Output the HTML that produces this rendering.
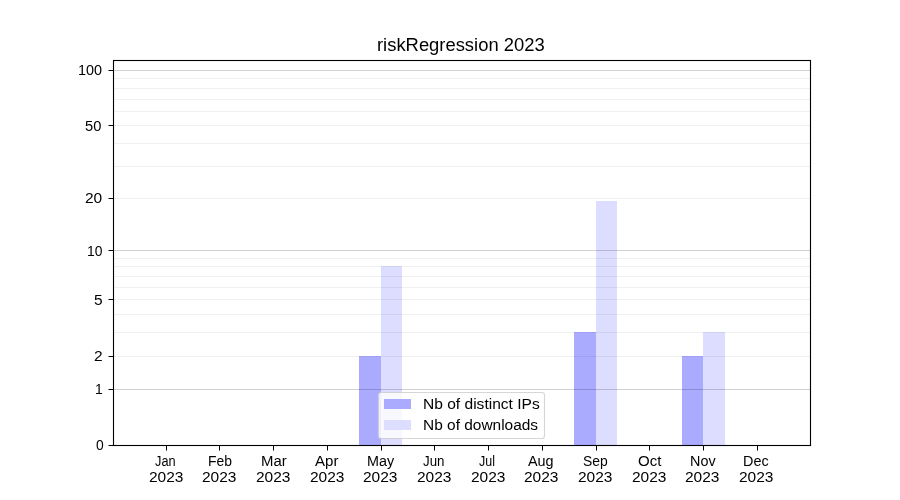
<!DOCTYPE html><html><head><meta charset="utf-8"><style>html,body{margin:0;padding:0;background:#fff;width:900px;height:500px;overflow:hidden}svg{display:block}text{font-family:"Liberation Sans",sans-serif;fill:#000}svg{will-change:transform}</style></head><body>
<svg width="900" height="500" viewBox="0 0 900 500">
<rect x="0" y="0" width="900" height="500" fill="#fff"/>
<g shape-rendering="crispEdges">
<rect x="359" y="356" width="22" height="89" fill="#aaaaff"/>
<rect x="381" y="266" width="21" height="179" fill="#ddddff"/>
<rect x="574" y="332" width="22" height="113" fill="#aaaaff"/>
<rect x="596" y="201" width="21" height="244" fill="#ddddff"/>
<rect x="682" y="356" width="21" height="89" fill="#aaaaff"/>
<rect x="703" y="332" width="22" height="113" fill="#ddddff"/>
<rect x="114" y="78" width="696" height="1" fill="#000" fill-opacity="0.06"/>
<rect x="114" y="88" width="696" height="1" fill="#000" fill-opacity="0.06"/>
<rect x="114" y="99" width="696" height="1" fill="#000" fill-opacity="0.06"/>
<rect x="114" y="111" width="696" height="1" fill="#000" fill-opacity="0.06"/>
<rect x="114" y="125" width="696" height="1" fill="#000" fill-opacity="0.06"/>
<rect x="114" y="143" width="696" height="1" fill="#000" fill-opacity="0.06"/>
<rect x="114" y="166" width="696" height="1" fill="#000" fill-opacity="0.06"/>
<rect x="114" y="198" width="696" height="1" fill="#000" fill-opacity="0.06"/>
<rect x="114" y="258" width="696" height="1" fill="#000" fill-opacity="0.06"/>
<rect x="114" y="266" width="696" height="1" fill="#000" fill-opacity="0.06"/>
<rect x="114" y="276" width="696" height="1" fill="#000" fill-opacity="0.06"/>
<rect x="114" y="287" width="696" height="1" fill="#000" fill-opacity="0.06"/>
<rect x="114" y="299" width="696" height="1" fill="#000" fill-opacity="0.06"/>
<rect x="114" y="314" width="696" height="1" fill="#000" fill-opacity="0.06"/>
<rect x="114" y="332" width="696" height="1" fill="#000" fill-opacity="0.06"/>
<rect x="114" y="356" width="696" height="1" fill="#000" fill-opacity="0.06"/>
<rect x="114" y="70" width="696" height="1" fill="#000" fill-opacity="0.18"/>
<rect x="114" y="250" width="696" height="1" fill="#000" fill-opacity="0.18"/>
<rect x="114" y="389" width="696" height="1" fill="#000" fill-opacity="0.18"/>
<rect x="113" y="60" width="698" height="1" fill="#000"/>
<rect x="113" y="445" width="698" height="1" fill="#000"/>
<rect x="113" y="60" width="1" height="386" fill="#000"/>
<rect x="810" y="60" width="1" height="386" fill="#000"/>
<rect x="112" y="61" width="1" height="384" fill="#000" fill-opacity="0.055"/>
<rect x="114" y="61" width="1" height="384" fill="#000" fill-opacity="0.055"/>
<rect x="809" y="61" width="1" height="384" fill="#000" fill-opacity="0.055"/>
<rect x="811" y="60" width="1" height="386" fill="#000" fill-opacity="0.055"/>
<rect x="113" y="59" width="698" height="1" fill="#000" fill-opacity="0.055"/>
<rect x="114" y="61" width="696" height="1" fill="#000" fill-opacity="0.055"/>
<rect x="114" y="444" width="696" height="1" fill="#000" fill-opacity="0.055"/>
<rect x="112" y="446" width="699" height="1" fill="#000" fill-opacity="0.055"/>
<rect x="109" y="70" width="4" height="1" fill="#000"/><rect x="108" y="70" width="1" height="1" fill="#000" fill-opacity="0.5"/>
<rect x="109" y="125" width="4" height="1" fill="#000"/><rect x="108" y="125" width="1" height="1" fill="#000" fill-opacity="0.5"/>
<rect x="109" y="198" width="4" height="1" fill="#000"/><rect x="108" y="198" width="1" height="1" fill="#000" fill-opacity="0.5"/>
<rect x="109" y="250" width="4" height="1" fill="#000"/><rect x="108" y="250" width="1" height="1" fill="#000" fill-opacity="0.5"/>
<rect x="109" y="299" width="4" height="1" fill="#000"/><rect x="108" y="299" width="1" height="1" fill="#000" fill-opacity="0.5"/>
<rect x="109" y="356" width="4" height="1" fill="#000"/><rect x="108" y="356" width="1" height="1" fill="#000" fill-opacity="0.5"/>
<rect x="109" y="389" width="4" height="1" fill="#000"/><rect x="108" y="389" width="1" height="1" fill="#000" fill-opacity="0.5"/>
<rect x="109" y="445" width="4" height="1" fill="#000"/><rect x="108" y="445" width="1" height="1" fill="#000" fill-opacity="0.5"/>
<rect x="166" y="446" width="1" height="4" fill="#000"/><rect x="166" y="450" width="1" height="1" fill="#000" fill-opacity="0.5"/>
<rect x="219" y="446" width="1" height="4" fill="#000"/><rect x="219" y="450" width="1" height="1" fill="#000" fill-opacity="0.5"/>
<rect x="273" y="446" width="1" height="4" fill="#000"/><rect x="273" y="450" width="1" height="1" fill="#000" fill-opacity="0.5"/>
<rect x="327" y="446" width="1" height="4" fill="#000"/><rect x="327" y="450" width="1" height="1" fill="#000" fill-opacity="0.5"/>
<rect x="381" y="446" width="1" height="4" fill="#000"/><rect x="381" y="450" width="1" height="1" fill="#000" fill-opacity="0.5"/>
<rect x="434" y="446" width="1" height="4" fill="#000"/><rect x="434" y="450" width="1" height="1" fill="#000" fill-opacity="0.5"/>
<rect x="488" y="446" width="1" height="4" fill="#000"/><rect x="488" y="450" width="1" height="1" fill="#000" fill-opacity="0.5"/>
<rect x="542" y="446" width="1" height="4" fill="#000"/><rect x="542" y="450" width="1" height="1" fill="#000" fill-opacity="0.5"/>
<rect x="596" y="446" width="1" height="4" fill="#000"/><rect x="596" y="450" width="1" height="1" fill="#000" fill-opacity="0.5"/>
<rect x="649" y="446" width="1" height="4" fill="#000"/><rect x="649" y="450" width="1" height="1" fill="#000" fill-opacity="0.5"/>
<rect x="703" y="446" width="1" height="4" fill="#000"/><rect x="703" y="450" width="1" height="1" fill="#000" fill-opacity="0.5"/>
<rect x="757" y="446" width="1" height="4" fill="#000"/><rect x="757" y="450" width="1" height="1" fill="#000" fill-opacity="0.5"/>
</g>
<rect x="378.5" y="392.5" width="166" height="46" rx="2.8" ry="2.8" fill="#fff" fill-opacity="0.8" stroke="#ccc" stroke-opacity="0.8" stroke-width="1.11"/>
<rect x="384" y="399" width="27" height="10" fill="#aaaaff" shape-rendering="crispEdges"/>
<rect x="384" y="420" width="27" height="10" fill="#ddddff" shape-rendering="crispEdges"/>
<text x="377.00" y="51.00" font-size="17.5" textLength="167.63" lengthAdjust="spacingAndGlyphs">riskRegression 2023</text>
<text x="78.00" y="75.00" font-size="13.89" textLength="24.06" lengthAdjust="spacingAndGlyphs">100</text>
<text x="85.00" y="131.00" font-size="13.89" textLength="16.34" lengthAdjust="spacingAndGlyphs">50</text>
<text x="85.00" y="203.00" font-size="13.89" textLength="17.24" lengthAdjust="spacingAndGlyphs">20</text>
<text x="87.00" y="256.00" font-size="13.89" textLength="15.44" lengthAdjust="spacingAndGlyphs">10</text>
<text x="94.00" y="305.00" font-size="13.89" textLength="8.62" lengthAdjust="spacingAndGlyphs">5</text>
<text x="94.00" y="361.00" font-size="13.89" textLength="8.62" lengthAdjust="spacingAndGlyphs">2</text>
<text x="95.00" y="394.00" font-size="13.89" textLength="7.72" lengthAdjust="spacingAndGlyphs">1</text>
<text x="96.00" y="450.00" font-size="13.89" textLength="7.72" lengthAdjust="spacingAndGlyphs">0</text>
<text x="155.00" y="466.00" font-size="13.89" textLength="20.57" lengthAdjust="spacingAndGlyphs">Jan</text>
<text x="149.00" y="482.00" font-size="13.89" textLength="34.48" lengthAdjust="spacingAndGlyphs">2023</text>
<text x="208.00" y="466.00" font-size="13.89" textLength="23.92" lengthAdjust="spacingAndGlyphs">Feb</text>
<text x="202.00" y="482.00" font-size="13.89" textLength="34.48" lengthAdjust="spacingAndGlyphs">2023</text>
<text x="261.00" y="466.00" font-size="13.89" textLength="25.71" lengthAdjust="spacingAndGlyphs">Mar</text>
<text x="256.00" y="482.00" font-size="13.89" textLength="34.48" lengthAdjust="spacingAndGlyphs">2023</text>
<text x="315.00" y="466.00" font-size="13.89" textLength="23.39" lengthAdjust="spacingAndGlyphs">Apr</text>
<text x="310.00" y="482.00" font-size="13.89" textLength="34.48" lengthAdjust="spacingAndGlyphs">2023</text>
<text x="367.00" y="466.00" font-size="13.89" textLength="27.12" lengthAdjust="spacingAndGlyphs">May</text>
<text x="363.00" y="482.00" font-size="13.89" textLength="34.48" lengthAdjust="spacingAndGlyphs">2023</text>
<text x="423.00" y="466.00" font-size="13.89" textLength="21.48" lengthAdjust="spacingAndGlyphs">Jun</text>
<text x="417.00" y="482.00" font-size="13.89" textLength="34.48" lengthAdjust="spacingAndGlyphs">2023</text>
<text x="479.00" y="466.00" font-size="13.89" textLength="15.95" lengthAdjust="spacingAndGlyphs">Jul</text>
<text x="471.00" y="482.00" font-size="13.89" textLength="34.48" lengthAdjust="spacingAndGlyphs">2023</text>
<text x="528.00" y="466.00" font-size="13.89" textLength="25.60" lengthAdjust="spacingAndGlyphs">Aug</text>
<text x="524.00" y="482.00" font-size="13.89" textLength="34.48" lengthAdjust="spacingAndGlyphs">2023</text>
<text x="583.00" y="466.00" font-size="13.89" textLength="24.70" lengthAdjust="spacingAndGlyphs">Sep</text>
<text x="578.00" y="482.00" font-size="13.89" textLength="34.48" lengthAdjust="spacingAndGlyphs">2023</text>
<text x="638.00" y="466.00" font-size="13.89" textLength="23.39" lengthAdjust="spacingAndGlyphs">Oct</text>
<text x="632.00" y="482.00" font-size="13.89" textLength="34.48" lengthAdjust="spacingAndGlyphs">2023</text>
<text x="690.00" y="466.00" font-size="13.89" textLength="25.59" lengthAdjust="spacingAndGlyphs">Nov</text>
<text x="685.00" y="482.00" font-size="13.89" textLength="34.48" lengthAdjust="spacingAndGlyphs">2023</text>
<text x="743.00" y="466.00" font-size="13.89" textLength="25.59" lengthAdjust="spacingAndGlyphs">Dec</text>
<text x="739.00" y="482.00" font-size="13.89" textLength="34.48" lengthAdjust="spacingAndGlyphs">2023</text>
<text x="423.00" y="409.00" font-size="13.89" textLength="116.71" lengthAdjust="spacingAndGlyphs">Nb of distinct IPs</text>
<text x="423.00" y="430.00" font-size="13.89" textLength="115.06" lengthAdjust="spacingAndGlyphs">Nb of downloads</text>
</svg></body></html>
